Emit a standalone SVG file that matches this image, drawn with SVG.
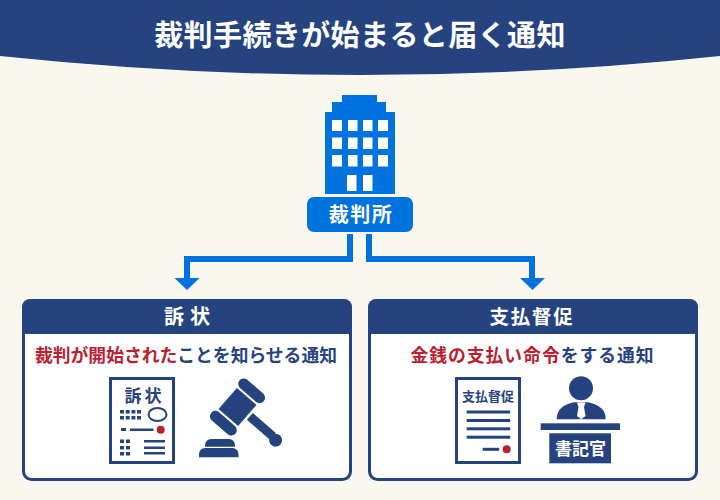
<svg xmlns="http://www.w3.org/2000/svg" width="720" height="500" viewBox="0 0 720 500">
<style>
text{font-family:"Noto Sans CJK JP","Noto Sans CJK SC",sans-serif;font-weight:700;text-anchor:middle}
.n{fill:#25437f}.b{fill:#0073de}.r{fill:#b9212f}.w{fill:#fff}
</style>
<rect width="720" height="500" fill="#faf7ef"/>
<g id="header"><path class="n" d="M0 0H720V56Q360 94 0 56Z"/>
<text class="w" x="360" y="45.500" font-size="29" letter-spacing=".4">裁判手続きが始まると届く通知</text></g>
<g id="connectors">
<path class="b" d="M347 234h6v28H190v16h9.500L187 290 174.500 278H184V256H347Z"/>
<path class="b" d="M366 234h6v22H535v22h10L532.500 290 520 278h9V262H366Z"/>
</g>
<g id="court">
<path class="b" d="M325 194V112H332V102H342V95H377V102H386V112H395V194Z"/>
<g class="w">
<rect x="332" y="120" width="10" height="11"/><rect x="348" y="120" width="9.500" height="11"/><rect x="363" y="120" width="9.500" height="11"/><rect x="378" y="120" width="10" height="11"/>
<rect x="332" y="137.500" width="10" height="11.500"/><rect x="348" y="137.500" width="9.500" height="11.500"/><rect x="363" y="137.500" width="9.500" height="11.500"/><rect x="378" y="137.500" width="10" height="11.500"/>
<rect x="332" y="155" width="10" height="11.500"/><rect x="348" y="155" width="9.500" height="11.500"/><rect x="363" y="155" width="9.500" height="11.500"/><rect x="378" y="155" width="10" height="11.500"/>
<rect x="347" y="175" width="9.500" height="16"/><rect x="363" y="175" width="9.500" height="16"/>
</g>
<rect class="b" x="307" y="197" width="106" height="35" rx="7"/>
<text class="w" x="361" y="222" font-size="20" letter-spacing="1.500">裁判所</text>
</g>
<g id="card-sojo">
<rect x="23.500" y="300.500" width="327" height="179" rx="8" fill="#fff" stroke="#25437f" stroke-width="3"/>
<path class="n" d="M22 334V307a8 8 0 0 1 8-8H344a8 8 0 0 1 8 8V334Z"/>
<text class="w" x="190" y="323.500" font-size="20" letter-spacing="6">訴状</text>
<text x="186" y="361.500" font-size="17.800"><tspan class="r">裁判が開始された</tspan><tspan class="n">ことを知らせる通知</tspan></text>
<g id="sojo-doc">
<rect x="110.500" y="378.500" width="63" height="84" fill="#fff" stroke="#25437f" stroke-width="3"/>
<text class="n" x="144.500" y="401.500" font-size="17" letter-spacing="3">訴状</text>
<g class="n">
<rect x="120" y="410" width="4" height="3.500"/><rect x="125.700" y="410" width="4" height="3.500"/><rect x="131.400" y="410" width="4" height="3.500"/><rect x="137" y="410" width="4" height="3.500"/>
<rect x="120" y="416" width="4" height="3.500"/><rect x="125.700" y="416" width="4" height="3.500"/><rect x="131.400" y="416" width="4" height="3.500"/><rect x="137" y="416" width="4" height="3.500"/>
<rect x="121" y="428" width="5" height="3"/><rect x="130" y="428.500" width="23.500" height="2.500"/>
<rect x="120" y="439.500" width="4" height="3.500"/><rect x="126" y="439.500" width="4" height="3.500"/>
<rect x="120" y="446" width="4" height="3.500"/><rect x="126" y="446" width="4" height="3.500"/>
<rect x="120" y="452" width="4" height="3.500"/><rect x="126" y="452" width="4" height="3.500"/>
<rect x="144" y="440" width="21" height="2.500"/><rect x="144" y="446.500" width="21" height="2.500"/><rect x="144" y="452" width="21" height="2.500"/>
</g>
<ellipse cx="157.500" cy="414.500" rx="9" ry="6.500" fill="#fff" stroke="#25437f" stroke-width="2"/>
<circle class="r" cx="160.700" cy="429.700" r="4"/>
</g>
<g id="gavel" class="n">
<g transform="translate(237.500 407) rotate(41)">
<rect x="-13" y="-14" width="26" height="28"/>
<rect x="-16" y="-27" width="32" height="11" rx="5.500"/>
<rect x="-16" y="16" width="32" height="11" rx="5.500"/>
<path d="M15.500 -5.500H46V3.500H15.500Z"/>
<circle cx="50.500" cy="0" r="6.500"/>
</g>
<path d="M205 446.700V445a6 6 0 0 1 6-6h18a6 6 0 0 1 6 6v1.700Z"/>
<path d="M199 457.300V454a6 6 0 0 1 6-6h27.500a6 6 0 0 1 6 6v3.300Z"/>
</g>
</g>
<g id="card-shihararai">
<rect x="369.500" y="300.500" width="327" height="179" rx="8" fill="#fff" stroke="#25437f" stroke-width="3"/>
<path class="n" d="M368 334V307a8 8 0 0 1 8-8H690a8 8 0 0 1 8 8V334Z"/>
<text class="w" x="532" y="323.500" font-size="19.500" letter-spacing="1.800">支払督促</text>
<text x="532.500" y="361.500" font-size="17.800" letter-spacing="1"><tspan class="r">金銭の支払い命令</tspan><tspan class="n">をする通知</tspan></text>
<g id="shiharai-doc">
<rect x="456.500" y="378.500" width="63" height="84" fill="#fff" stroke="#25437f" stroke-width="3"/>
<text class="n" x="488" y="400.500" font-size="13">支払督促</text>
<g class="n">
<rect x="466.700" y="410.500" width="43.500" height="3"/><rect x="466.700" y="419" width="43.500" height="3"/><rect x="466.700" y="427.300" width="43.500" height="3"/><rect x="466.700" y="435.700" width="43.500" height="3"/>
<rect x="482.700" y="447.800" width="16.500" height="3"/>
</g>
<circle class="r" cx="506.700" cy="449.300" r="4"/>
</g>
<g id="clerk">
<circle class="n" cx="581" cy="388.300" r="12"/>
<path class="n" d="M556.700 419.300C556.700 409 563 405 574 402.300H588C599 405 605.700 409 605.700 419.300Z"/>
<path class="w" d="M577 402.500H585.500L584 407L585.500 416L581.200 419.300L577 416L578.500 407Z"/>
<rect class="n" x="540.700" y="423.300" width="79.300" height="6.700"/>
<rect class="n" x="549.300" y="433.300" width="61.700" height="30"/>
<text class="w" x="580.500" y="455" font-size="17">書記官</text>
</g>
</g>
</svg>
